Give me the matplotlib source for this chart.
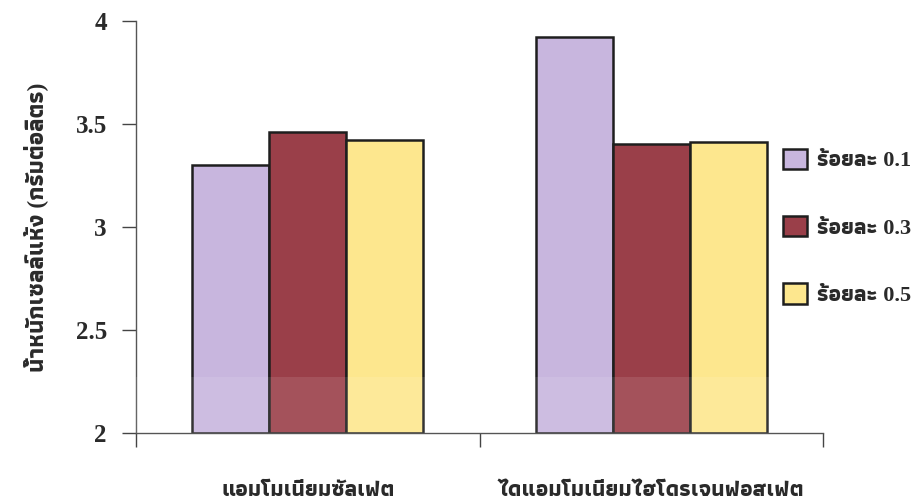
import numpy as np
import matplotlib
matplotlib.use('Agg')
import matplotlib.pyplot as plt
from matplotlib.ticker import FuncFormatter

categories = ['แอมโมเนียมซัลเฟต', 'ไดแอมโมเนียมไฮโดรเจนฟอสเฟต']
series = ['ร้อยละ 0.1', 'ร้อยละ 0.3', 'ร้อยละ 0.5']
val_01 = [3.30, 3.92]
val_03 = [3.46, 3.40]
val_05 = [3.42, 3.41]
ylabel = 'น้ำหนักเซลล์แห้ง (กรัมต่อลิตร)'

colors = ['#c8b6de', '#9a3f49', '#fde78e']
# digits from a Times-like serif, Thai glyphs from a narrow Thai face
fonts = ['Liberation Serif', 'Athiti', 'DejaVu Sans']
plt.rcParams['font.family'] = fonts
plt.rcParams['font.weight'] = 'bold'
plt.rcParams['axes.labelweight'] = 'bold'
plt.rcParams['font.size'] = 16
plt.rcParams['text.color'] = '#2a2a2a'

fig = plt.figure(figsize=(9.16, 5.01), dpi=100)
ax = fig.add_axes([0.1485, 0.1357, 0.75, 0.823])

x = np.arange(len(categories))
w = 0.224
for i, vals in enumerate([val_01, val_03, val_05]):
    ax.bar(x + (i - 1) * w, np.array(vals) - 2, w, bottom=2,
           color=colors[i], edgecolor='#1e1e1e', linewidth=1.8,
           label=series[i], zorder=3)

# faint light band of the scanned page over the lower part of the bars
ax.axhspan(2, 2.27, color='white', alpha=0.1, zorder=2.9, lw=0)
for b in ax.patches[:-1]:
    b.set_zorder(2)

ax.set_xlim(-0.5, 1.5)
ax.set_ylim(2, 4)
ax.set_yticks([2, 2.5, 3, 3.5, 4])
ax.yaxis.set_major_formatter(FuncFormatter(lambda v, p: '%g' % v))
ax.set_xticks([-0.5, 0.5, 1.5])
ax.set_xticklabels(['', '', ''])
ax.tick_params(axis='y', direction='out', length=10, width=1, color='#444444', pad=11,
               labelsize=18, labelcolor='#2a2a2a')
ax.tick_params(axis='x', direction='out', length=10, width=1, color='#444444')

for s in ['top', 'right']:
    ax.spines[s].set_visible(False)
for s in ['left', 'bottom']:
    ax.spines[s].set_color('#555555')
    ax.spines[s].set_linewidth(1)

for xi, c in zip(x, categories):
    ax.text(xi, -0.14, c, transform=ax.get_xaxis_transform(), ha='center', va='center',
            fontsize=16, color='#2a2a2a')

ax.set_ylabel(ylabel, fontsize=17, color='#2a2a2a', labelpad=20)

leg = ax.legend(loc='upper left', bbox_to_anchor=(0.942, 0.69), frameon=False,
                borderaxespad=0, borderpad=0, fontsize=16,
                labelspacing=2.0, handlelength=1.05, handleheight=1.05, handletextpad=0.45)

fig.savefig('out.png', dpi=100)
